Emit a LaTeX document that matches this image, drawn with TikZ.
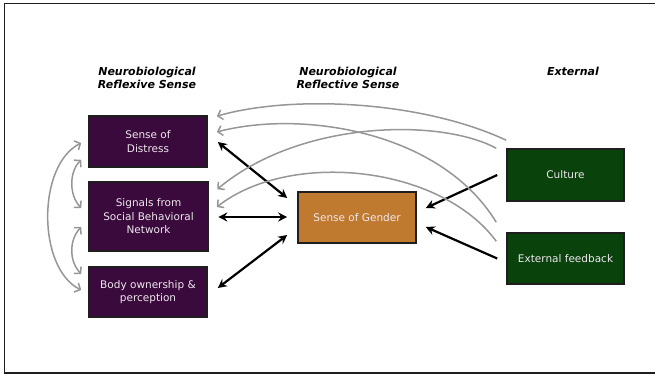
\documentclass[tikz,border=0pt]{standalone}
\usepackage{fontspec}
\setmainfont{DejaVu Sans}
\usetikzlibrary{arrows.meta,calc}
\definecolor{boxpurple}{RGB}{58,10,60}
\definecolor{boxorange}{RGB}{192,122,48}
\definecolor{boxgreen}{RGB}{10,66,12}
\definecolor{arcgray}{RGB}{150,150,150}
\definecolor{boxtext}{RGB}{238,232,238}
\definecolor{frame}{RGB}{30,30,30}
\begin{document}
\begin{tikzpicture}[x=1pt,y=-1pt,
  box/.style={draw=frame,line width=1.6pt,text=boxtext,align=center,
    font=\fontsize{10.5}{13.5}\selectfont,inner sep=0pt},
  header/.style={align=center,font=\fontsize{11}{13}\selectfont\bfseries\itshape},
  blk/.style={line width=2.2pt,black,{Stealth[length=9pt,width=9pt,inset=3pt]}-{Stealth[length=9pt,width=9pt,inset=3pt]}},
  blkone/.style={line width=2.2pt,black,-{Stealth[length=9pt,width=9pt,inset=3pt]}},
  arc/.style={line width=1.5pt,arcgray,-{Straight Barb[length=4.5pt,width=10pt]}},
  arcboth/.style={line width=1.5pt,arcgray,{Straight Barb[length=4.5pt,width=10pt]}-{Straight Barb[length=4.5pt,width=10pt]}}]
\useasboundingbox (0,0) rectangle (655,374);
\draw[frame,line width=1.8pt] (655,3.5) -- (4.5,3.5) -- (4.5,373) -- (655,373);

% headers
\node[header] (h1) at (147,77.5) {Neurobiological\\Reflexive Sense};
\node[header] (h2) at (348,77.5) {Neurobiological\\Reflective Sense};
\node[header] (h3) at (573,71) {External};

% boxes
\node[box,fill=boxpurple,minimum width=118pt,minimum height=51pt] (distress) at (148,141.5) {Sense of\\Distress};
\node[box,fill=boxpurple,minimum width=119pt,minimum height=69pt] (signals) at (148.5,216.5) {Signals from\\Social Behavioral\\Network};
\node[box,fill=boxpurple,minimum width=118pt,minimum height=50pt] (body) at (148,292) {Body ownership \&\\perception};
\node[box,fill=boxorange,minimum width=118pt,minimum height=51pt] (gender) at (357,217.5) {Sense of Gender};
\node[box,fill=boxgreen,minimum width=117pt,minimum height=52pt] (culture) at (565.5,175) {Culture};
\node[box,fill=boxgreen,minimum width=117pt,minimum height=51pt] (extfb) at (565.5,258.5) {External feedback};

% black arrows
\draw[blk] ($(distress.east)+(10,0.5)$) -- ($(gender.west)+(-10,-19.5)$);
\draw[blk] ($(signals.east)+(9.5,0.5)$) -- ($(gender.west)+(-10,-0.5)$);
\draw[blk] ($(body.east)+(10,-4)$) -- ($(gender.west)+(-10,17.5)$);
\draw[blkone] ($(culture.west)+(-9,0)$) -- ($(gender.east)+(9,-9.5)$);
\draw[blkone] ($(extfb.west)+(-9,0)$) -- ($(gender.east)+(9,9.5)$);

% gray arcs from external
\draw[arc] ($(culture.north west)+(0,-8)$) .. controls (420,100) and (290,95) .. ($(distress.north east)+(9,1)$);
\draw[arc] ($(extfb.north west)+(-10,-10)$) .. controls (440,130) and (300,110) .. ($(distress.east)+(9,-9.5)$);
\draw[arc] ($(culture.north west)+(-10,0)$) .. controls (440,118) and (300,120) .. ($(signals.north east)+(8.5,8)$);
\draw[arc] ($(extfb.north west)+(-10,9)$) .. controls (440,165) and (290,150) .. ($(signals.east)+(8,-9.5)$);

% gray arcs on the left
\draw[arcboth] ($(distress.west)+(-7,1.5)$) .. controls (37,165) and (37,268) .. ($(body.west)+(-7,-2)$);
\draw[arcboth] ($(distress.south west)+(-7,-8)$) .. controls (69,172) and (69,195) .. ($(signals.west)+(-7,-8.5)$);
\draw[arcboth] ($(signals.west)+(-7,10.5)$) .. controls (69,240) and (69,261) .. ($(body.west)+(-7,-18)$);
\end{tikzpicture}
\end{document}
